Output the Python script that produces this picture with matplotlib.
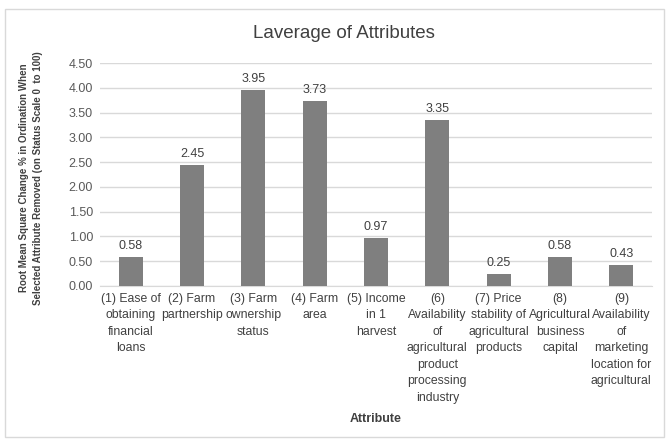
import matplotlib.pyplot as plt
from matplotlib.patches import Rectangle

categories = [
    "(1) Ease of\nobtaining\nfinancial\nloans",
    "(2) Farm\npartnership",
    "(3) Farm\nownership\nstatus",
    "(4) Farm\narea",
    "(5) Income\nin 1\nharvest",
    "(6)\nAvailability\nof\nagricultural\nproduct\nprocessing\nindustry",
    "(7) Price\nstability of\nagricultural\nproducts",
    "(8)\nAgricultural\nbusiness\ncapital",
    "(9)\nAvailability\nof\nmarketing\nlocation for\nagricultural",
]
values = [0.58, 2.45, 3.95, 3.73, 0.97, 3.35, 0.25, 0.58, 0.43]
yticks = [0, 0.5, 1.0, 1.5, 2.0, 2.5, 3.0, 3.5, 4.0, 4.5]

plt.rcParams['font.family'] = ['Liberation Sans', 'DejaVu Sans']

fig = plt.figure(figsize=(6.69, 4.41), dpi=100)
ax = fig.add_axes([100 / 669, 1 - 286 / 441, 552 / 669, 223 / 441])

# chart border
fig.patches.append(Rectangle((5 / 669, 4 / 441), 659 / 669, 428 / 441,
                             transform=fig.transFigure, fill=False,
                             edgecolor='#d9d9d9', linewidth=1))

x = range(len(values))
ax.bar(x, values, width=0.39, color='#7f7f7f', zorder=3)
for xi, v in zip(x, values):
    ax.text(xi, v + 0.1, f"{v:.2f}", ha='center', va='bottom',
            fontsize=9, color='#404040')

ax.set_xlim(-0.5, len(values) - 0.5)
ax.set_ylim(0, 4.5)
ax.set_yticks(yticks)
ax.set_yticklabels([f"{t:.2f}" for t in yticks], fontsize=9, color='#595959')
ax.set_xticks(list(x))
ax.set_xticklabels(categories, fontsize=8.8, color='#404040', linespacing=1.5)
ax.tick_params(axis='both', length=0, pad=5)
ax.grid(axis='y', color='#d9d9d9', linewidth=1, zorder=0)
for s in ['top', 'right', 'left']:
    ax.spines[s].set_visible(False)
ax.spines['bottom'].set_color('#d9d9d9')

fig.text(344 / 669, 1 - 33 / 441, "Laverage of Attributes", ha='center',
         va='center', fontsize=13.5, color='#404040')
fig.text(31 / 669, 1 - 178 / 441,
         "Root Mean Square Change % in Ordination When\n"
         "Selected Attribute Removed (on Status Scale 0  to 100)",
         rotation=90, ha='center', va='center', fontsize=7.0,
         fontweight='bold', color='#404040', linespacing=1.6)
fig.text(376 / 669, 1 - 419 / 441, "Attribute", ha='center', va='center',
         fontsize=9, fontweight='bold', color='#404040')

fig.savefig('out.png', dpi=100)
